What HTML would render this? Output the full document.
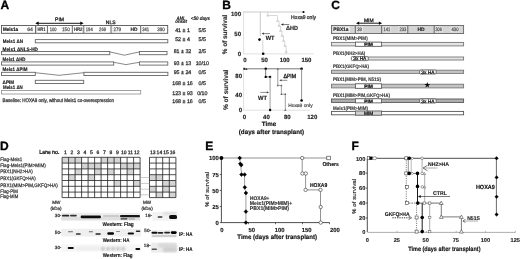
<!DOCTYPE html>
<html><head><meta charset="utf-8"><style>
html,body{margin:0;padding:0;background:#fff;}
body{width:520px;height:259px;overflow:hidden;}
svg{display:block;font-family:"Liberation Sans", sans-serif;will-change:transform;text-rendering:geometricPrecision;}
</style></head><body>
<svg width="520" height="259" viewBox="0 0 520 259" font-family='"Liberation Sans", sans-serif'>
<rect width="520" height="259" fill="#fff"/>
<text x="0.40" y="8.62" font-size="12" font-weight="bold" stroke="#000" stroke-width="0.300" >A</text>
<line x1="37.00" y1="23.30" x2="82.00" y2="23.30" stroke="#000" stroke-width="0.9" />
<path d="M35.3,23.3 L38.6,21.6 L38.6,25 Z" fill="#000" stroke="none" stroke-width="0" />
<path d="M83.6,23.3 L80.3,21.6 L80.3,25 Z" fill="#000" stroke="none" stroke-width="0" />
<text x="59.50" y="21.40" font-size="5" text-anchor="middle" fill="#111" stroke="#111" stroke-width="0.250" >PIM</text>
<text x="110.70" y="23.80" font-size="5" text-anchor="middle" fill="#111" stroke="#111" stroke-width="0.250" >NLS</text>
<rect x="1.50" y="25.50" width="166.20" height="7.80" fill="#fff" stroke="#555" stroke-width="0.9" />
<line x1="35.50" y1="25.50" x2="35.50" y2="33.30" stroke="#666" stroke-width="1.0" />
<line x1="47.40" y1="25.50" x2="47.40" y2="33.30" stroke="#666" stroke-width="1.0" />
<line x1="72.30" y1="25.50" x2="72.30" y2="33.30" stroke="#666" stroke-width="1.0" />
<line x1="83.80" y1="25.50" x2="83.80" y2="33.30" stroke="#666" stroke-width="1.0" />
<line x1="111.00" y1="25.50" x2="111.00" y2="33.30" stroke="#666" stroke-width="1.0" />
<line x1="140.70" y1="25.50" x2="140.70" y2="33.30" stroke="#666" stroke-width="1.0" />
<line x1="36.30" y1="25.50" x2="36.30" y2="33.30" stroke="#999" stroke-width="0.5" />
<line x1="83.00" y1="25.50" x2="83.00" y2="33.30" stroke="#999" stroke-width="0.5" />
<line x1="111.80" y1="25.50" x2="111.80" y2="33.30" stroke="#999" stroke-width="0.5" />
<text x="3.00" y="31.40" font-size="5" font-weight="bold" stroke="#000" stroke-width="0.125" textLength="15.00" lengthAdjust="spacingAndGlyphs" >Meis1a</text>
<text x="27.20" y="31.40" font-size="5" fill="#555" stroke="#555" stroke-width="0.250" textLength="5.80" lengthAdjust="spacingAndGlyphs" >64</text>
<text x="37.40" y="31.40" font-size="5" font-weight="bold" fill="#333" stroke="#333" stroke-width="0.125" textLength="8.00" lengthAdjust="spacingAndGlyphs" >HR1</text>
<text x="49.80" y="31.40" font-size="5" fill="#555" stroke="#555" stroke-width="0.250" textLength="6.70" lengthAdjust="spacingAndGlyphs" >100</text>
<text x="62.00" y="31.40" font-size="5" fill="#555" stroke="#555" stroke-width="0.250" textLength="7.80" lengthAdjust="spacingAndGlyphs" >150</text>
<text x="73.90" y="31.40" font-size="5" font-weight="bold" fill="#333" stroke="#333" stroke-width="0.125" textLength="8.60" lengthAdjust="spacingAndGlyphs" >HR2</text>
<text x="85.80" y="31.40" font-size="5" fill="#555" stroke="#555" stroke-width="0.250" textLength="6.90" lengthAdjust="spacingAndGlyphs" >194</text>
<text x="99.10" y="31.40" font-size="5" fill="#555" stroke="#555" stroke-width="0.250" textLength="6.90" lengthAdjust="spacingAndGlyphs" >268</text>
<text x="113.60" y="31.40" font-size="5" fill="#555" stroke="#555" stroke-width="0.250" textLength="7.50" lengthAdjust="spacingAndGlyphs" >279</text>
<text x="130.40" y="31.40" font-size="5" font-weight="bold" fill="#222" stroke="#222" stroke-width="0.125" textLength="7.00" lengthAdjust="spacingAndGlyphs" >HD</text>
<text x="142.20" y="31.40" font-size="5" fill="#555" stroke="#555" stroke-width="0.250" textLength="6.90" lengthAdjust="spacingAndGlyphs" >341</text>
<text x="157.20" y="31.40" font-size="5" fill="#555" stroke="#555" stroke-width="0.250" textLength="7.60" lengthAdjust="spacingAndGlyphs" >390</text>
<text x="2.80" y="42.60" font-size="5" font-weight="bold" fill="#111" stroke="#111" stroke-width="0.125" textLength="20.20" lengthAdjust="spacingAndGlyphs" >Meis1 ΔN</text>
<rect x="35.30" y="39.60" width="132.50" height="3.20" fill="#fff" stroke="#666" stroke-width="0.9" />
<text x="2.60" y="50.50" font-size="5" font-weight="bold" fill="#111" stroke="#111" stroke-width="0.125" textLength="35.40" lengthAdjust="spacingAndGlyphs" >Meis1 ΔNLS-HD</text>
<rect x="1.50" y="51.50" width="108.30" height="3.20" fill="#fff" stroke="#666" stroke-width="0.9" />
<path d="M109.8,51.9 L124.3,55.2 L139.4,51.9" fill="none" stroke="#555" stroke-width="0.7" />
<rect x="139.40" y="51.50" width="27.60" height="3.20" fill="#fff" stroke="#666" stroke-width="0.9" />
<text x="2.60" y="61.10" font-size="5" font-weight="bold" fill="#111" stroke="#111" stroke-width="0.125" textLength="22.90" lengthAdjust="spacingAndGlyphs" >Meis1 ΔHD</text>
<rect x="1.50" y="61.90" width="112.20" height="3.20" fill="#fff" stroke="#666" stroke-width="0.9" />
<path d="M113.7,62.3 L126.0,64.6 L139.4,62.3" fill="none" stroke="#555" stroke-width="0.7" />
<rect x="139.40" y="61.90" width="28.40" height="3.20" fill="#fff" stroke="#666" stroke-width="0.9" />
<text x="2.60" y="71.30" font-size="5" font-weight="bold" fill="#111" stroke="#111" stroke-width="0.125" textLength="24.90" lengthAdjust="spacingAndGlyphs" >Meis1 ΔPIM</text>
<rect x="1.50" y="72.30" width="33.80" height="3.20" fill="#fff" stroke="#666" stroke-width="0.9" />
<path d="M35.3,72.7 L59.0,75.3 L83.9,72.7" fill="none" stroke="#555" stroke-width="0.7" />
<rect x="83.90" y="72.30" width="84.00" height="3.20" fill="#fff" stroke="#666" stroke-width="0.9" />
<text x="2.60" y="83.50" font-size="5" font-weight="bold" fill="#111" stroke="#111" stroke-width="0.125" textLength="11.40" lengthAdjust="spacingAndGlyphs" >ΔPIM</text>
<rect x="35.30" y="80.30" width="48.40" height="3.20" fill="#fff" stroke="#666" stroke-width="0.9" />
<text x="3.00" y="89.00" font-size="5" font-weight="bold" fill="#111" stroke="#111" stroke-width="0.125" textLength="19.80" lengthAdjust="spacingAndGlyphs" >Meis1 ΔN</text>
<rect x="1.50" y="90.50" width="139.20" height="3.50" fill="#fff" stroke="#999" stroke-width="0.9" />
<text x="2.60" y="101.77" font-size="5.2" fill="#333" stroke="#333" stroke-width="0.260" textLength="111.30" lengthAdjust="spacingAndGlyphs" >Baseline: HOXA9 only, without Meis1 co-overexpression</text>
<text x="176.60" y="19.50" font-size="5.0" font-weight="bold" font-style="italic" fill="#222" stroke="#222" stroke-width="0.125" textLength="9.00" lengthAdjust="spacingAndGlyphs" >AML</text>
<text x="175.20" y="23.10" font-size="5.0" font-weight="bold" font-style="italic" fill="#222" stroke="#222" stroke-width="0.125" textLength="11.80" lengthAdjust="spacingAndGlyphs" >onset</text>
<text x="190.80" y="19.80" font-size="5.0" font-weight="bold" font-style="italic" fill="#222" stroke="#222" stroke-width="0.125" textLength="19.20" lengthAdjust="spacingAndGlyphs" >&lt;50 days</text>
<text x="182.50" y="32.21" font-size="5.3" text-anchor="middle" fill="#333" stroke="#333" stroke-width="0.265" >41 ± 1</text>
<text x="202.30" y="32.21" font-size="5.3" text-anchor="middle" fill="#333" stroke="#333" stroke-width="0.265" >5/5</text>
<text x="182.50" y="41.31" font-size="5.3" text-anchor="middle" fill="#333" stroke="#333" stroke-width="0.265" >52 ± 4</text>
<text x="202.30" y="41.31" font-size="5.3" text-anchor="middle" fill="#333" stroke="#333" stroke-width="0.265" >5/5</text>
<text x="182.50" y="52.91" font-size="5.3" text-anchor="middle" fill="#333" stroke="#333" stroke-width="0.265" >81 ± 32</text>
<text x="202.30" y="52.91" font-size="5.3" text-anchor="middle" fill="#333" stroke="#333" stroke-width="0.265" >2/5</text>
<text x="182.50" y="64.51" font-size="5.3" text-anchor="middle" fill="#333" stroke="#333" stroke-width="0.265" >93 ± 13</text>
<text x="202.30" y="64.51" font-size="5.3" text-anchor="middle" fill="#333" stroke="#333" stroke-width="0.265" >10/10</text>
<text x="182.50" y="74.31" font-size="5.3" text-anchor="middle" fill="#333" stroke="#333" stroke-width="0.265" >95 ± 24</text>
<text x="202.30" y="74.31" font-size="5.3" text-anchor="middle" fill="#333" stroke="#333" stroke-width="0.265" >0/5</text>
<text x="182.50" y="84.61" font-size="5.3" text-anchor="middle" fill="#333" stroke="#333" stroke-width="0.265" >168 ± 16</text>
<text x="202.30" y="84.61" font-size="5.3" text-anchor="middle" fill="#333" stroke="#333" stroke-width="0.265" >0/5</text>
<text x="182.50" y="94.71" font-size="5.3" text-anchor="middle" fill="#333" stroke="#333" stroke-width="0.265" >123 ± 93</text>
<text x="202.30" y="94.71" font-size="5.3" text-anchor="middle" fill="#333" stroke="#333" stroke-width="0.265" >0/10</text>
<text x="182.50" y="102.71" font-size="5.3" text-anchor="middle" fill="#333" stroke="#333" stroke-width="0.265" >168 ± 16</text>
<text x="202.30" y="102.71" font-size="5.3" text-anchor="middle" fill="#333" stroke="#333" stroke-width="0.265" >0/5</text>
<text x="222.30" y="8.62" font-size="12" font-weight="bold" stroke="#000" stroke-width="0.300" >B</text>
<line x1="243.60" y1="11.50" x2="243.60" y2="54.00" stroke="#dcdcdc" stroke-width="0.9" />
<line x1="243.20" y1="53.90" x2="314.00" y2="53.90" stroke="#dcdcdc" stroke-width="0.9" />
<text x="241.00" y="16.16" font-size="6" font-weight="bold" text-anchor="end" fill="#222" stroke="#222" stroke-width="0.150" >100</text>
<text x="241.00" y="35.96" font-size="6" font-weight="bold" text-anchor="end" fill="#222" stroke="#222" stroke-width="0.150" >50</text>
<text x="241.00" y="55.76" font-size="6" font-weight="bold" text-anchor="end" fill="#222" stroke="#222" stroke-width="0.150" >0</text>
<text x="245.00" y="62.06" font-size="6" font-weight="bold" text-anchor="middle" fill="#222" stroke="#222" stroke-width="0.150" >0</text>
<text x="264.60" y="62.06" font-size="6" font-weight="bold" text-anchor="middle" fill="#222" stroke="#222" stroke-width="0.150" >50</text>
<text x="284.70" y="62.06" font-size="6" font-weight="bold" text-anchor="middle" fill="#222" stroke="#222" stroke-width="0.150" >100</text>
<text x="306.40" y="62.06" font-size="6" font-weight="bold" text-anchor="middle" fill="#222" stroke="#222" stroke-width="0.150" >150</text>
<text transform="translate(227.38,34.50) rotate(-90)" x="0" y="0" font-size="6.6" font-weight="bold" text-anchor="middle" textLength="39.50" lengthAdjust="spacingAndGlyphs" fill="#333" stroke="#333" stroke-width="0.165">% of survival</text>
<line x1="243.60" y1="12.00" x2="303.50" y2="12.00" stroke="#c4c4c4" stroke-width="0.9" />
<circle cx="303.50" cy="12.00" r="1.1" fill="#000" stroke="none" stroke-width="0.6"/>
<line x1="260.30" y1="12.00" x2="260.30" y2="36.00" stroke="#c4c4c4" stroke-width="0.9" />
<line x1="262.80" y1="40.00" x2="262.80" y2="53.50" stroke="#ccc" stroke-width="0.8" />
<circle cx="259.50" cy="39.60" r="1.3" fill="#000" stroke="none" stroke-width="0.6"/>
<circle cx="263.20" cy="53.80" r="1.3" fill="#000" stroke="none" stroke-width="0.6"/>
<path d="M267.8,12 L267.8,15.5 L277.5,15.5 L277.5,21 L279,21 L279,26 L280.5,26 L280.5,31 L282,31 L282,36 L283.5,36 L283.5,41 L284.8,41 L284.8,46 L286.2,46 L286.2,53.8" fill="none" stroke="#d4d4d4" stroke-width="0.9" />
<path d="M266.20,16.48 L269.40,16.48 L267.80,13.60 Z" fill="#d0d0d0" stroke="none" stroke-width="0" />
<path d="M275.90,21.78 L279.10,21.78 L277.50,18.90 Z" fill="#d0d0d0" stroke="none" stroke-width="0" />
<path d="M277.40,26.78 L280.60,26.78 L279.00,23.90 Z" fill="#d0d0d0" stroke="none" stroke-width="0" />
<path d="M278.90,31.78 L282.10,31.78 L280.50,28.90 Z" fill="#d0d0d0" stroke="none" stroke-width="0" />
<path d="M280.40,36.78 L283.60,36.78 L282.00,33.90 Z" fill="#d0d0d0" stroke="none" stroke-width="0" />
<path d="M281.90,41.78 L285.10,41.78 L283.50,38.90 Z" fill="#d0d0d0" stroke="none" stroke-width="0" />
<path d="M283.20,46.78 L286.40,46.78 L284.80,43.90 Z" fill="#d0d0d0" stroke="none" stroke-width="0" />
<path d="M284.60,52.78 L287.80,52.78 L286.20,49.90 Z" fill="#d0d0d0" stroke="none" stroke-width="0" />
<text x="291.00" y="19.34" font-size="5.4" fill="#333" stroke="#333" stroke-width="0.270" textLength="25.00" lengthAdjust="spacingAndGlyphs" >Hoxa9 only</text>
<line x1="282.34" y1="24.50" x2="289.30" y2="24.50" stroke="#333" stroke-width="0.6" />
<path d="M280.90,24.50 L283.30,23.30 L283.30,25.70 Z" fill="#333" stroke="none" stroke-width="0" />
<text x="286.00" y="30.16" font-size="6" font-weight="bold" fill="#222" stroke="#222" stroke-width="0.150" textLength="12.00" lengthAdjust="spacingAndGlyphs" >ΔHD</text>
<line x1="262.92" y1="33.60" x2="270.00" y2="33.60" stroke="#333" stroke-width="0.6" />
<path d="M261.60,33.60 L263.80,32.50 L263.80,34.70 Z" fill="#333" stroke="none" stroke-width="0" />
<text x="265.70" y="39.56" font-size="6" font-weight="bold" fill="#222" stroke="#222" stroke-width="0.150" textLength="8.80" lengthAdjust="spacingAndGlyphs" >WT</text>
<line x1="243.60" y1="68.50" x2="243.60" y2="110.20" stroke="#dcdcdc" stroke-width="0.9" />
<line x1="243.20" y1="110.20" x2="310.00" y2="110.20" stroke="#dcdcdc" stroke-width="0.9" />
<text x="242.00" y="78.16" font-size="6" font-weight="bold" text-anchor="end" fill="#222" stroke="#222" stroke-width="0.150" >80</text>
<text x="242.00" y="96.86" font-size="6" font-weight="bold" text-anchor="end" fill="#222" stroke="#222" stroke-width="0.150" >40</text>
<text x="242.00" y="112.16" font-size="6" font-weight="bold" text-anchor="end" fill="#222" stroke="#222" stroke-width="0.150" >0</text>
<text x="244.50" y="118.76" font-size="6" font-weight="bold" text-anchor="middle" fill="#222" stroke="#222" stroke-width="0.150" >0</text>
<text x="266.40" y="118.76" font-size="6" font-weight="bold" text-anchor="middle" fill="#222" stroke="#222" stroke-width="0.150" >40</text>
<text x="287.30" y="118.76" font-size="6" font-weight="bold" text-anchor="middle" fill="#222" stroke="#222" stroke-width="0.150" >80</text>
<text x="312.30" y="118.76" font-size="6" font-weight="bold" text-anchor="middle" fill="#222" stroke="#222" stroke-width="0.150" >120</text>
<text transform="translate(227.58,89.80) rotate(-90)" x="0" y="0" font-size="6.6" font-weight="bold" text-anchor="middle" textLength="40.50" lengthAdjust="spacingAndGlyphs" fill="#333" stroke="#333" stroke-width="0.165">% of survival</text>
<line x1="244.00" y1="68.80" x2="301.60" y2="68.80" stroke="#555" stroke-width="0.8" />
<rect x="243.30" y="67.80" width="2.00" height="2.00" fill="#222" stroke="none" stroke-width="0" />
<path d="M245.30,69.88 L247.50,69.88 L246.40,67.90 Z" fill="#333" stroke="none" stroke-width="0" />
<circle cx="265.70" cy="68.80" r="1.2" fill="#000" stroke="none" stroke-width="0.6"/>
<line x1="265.70" y1="68.80" x2="265.70" y2="76.90" stroke="#555" stroke-width="0.8" />
<line x1="265.70" y1="76.90" x2="270.10" y2="76.90" stroke="#555" stroke-width="0.8" />
<circle cx="265.70" cy="76.90" r="1.2" fill="#000" stroke="none" stroke-width="0.6"/>
<circle cx="270.10" cy="76.90" r="1.2" fill="#000" stroke="none" stroke-width="0.6"/>
<line x1="270.10" y1="76.90" x2="270.10" y2="110.00" stroke="#888" stroke-width="0.8" />
<circle cx="270.10" cy="110.00" r="1.2" fill="#000" stroke="none" stroke-width="0.6"/>
<line x1="277.80" y1="68.80" x2="277.80" y2="85.40" stroke="#888" stroke-width="0.8" />
<line x1="277.80" y1="85.40" x2="281.40" y2="85.40" stroke="#888" stroke-width="0.8" />
<line x1="281.40" y1="85.40" x2="281.40" y2="94.20" stroke="#888" stroke-width="0.8" />
<line x1="281.40" y1="94.20" x2="285.30" y2="94.20" stroke="#888" stroke-width="0.8" />
<line x1="285.30" y1="94.20" x2="285.30" y2="110.20" stroke="#888" stroke-width="0.8" />
<path d="M276.70,69.68 L278.90,69.68 L277.80,67.70 Z" fill="#666" stroke="none" stroke-width="0" />
<path d="M276.70,86.28 L278.90,86.28 L277.80,84.30 Z" fill="#666" stroke="none" stroke-width="0" />
<path d="M280.30,86.28 L282.50,86.28 L281.40,84.30 Z" fill="#666" stroke="none" stroke-width="0" />
<path d="M280.30,95.08 L282.50,95.08 L281.40,93.10 Z" fill="#666" stroke="none" stroke-width="0" />
<path d="M284.20,95.08 L286.40,95.08 L285.30,93.10 Z" fill="#666" stroke="none" stroke-width="0" />
<path d="M284.20,110.88 L286.40,110.88 L285.30,108.90 Z" fill="#666" stroke="none" stroke-width="0" />
<circle cx="301.60" cy="68.80" r="1.3" fill="#000" stroke="none" stroke-width="0.6"/>
<line x1="301.60" y1="68.80" x2="301.60" y2="100.50" stroke="#777" stroke-width="0.8" />
<circle cx="301.60" cy="100.50" r="1.3" fill="#000" stroke="none" stroke-width="0.6"/>
<text x="283.40" y="77.66" font-size="6" fill="#111" stroke="#111" stroke-width="0.300" textLength="12.80" lengthAdjust="spacingAndGlyphs" >ΔPIM</text>
<line x1="280.62" y1="80.30" x2="287.40" y2="80.30" stroke="#444" stroke-width="0.6" />
<path d="M279.30,80.30 L281.50,79.20 L281.50,81.40 Z" fill="#444" stroke="none" stroke-width="0" />
<line x1="260.30" y1="92.40" x2="267.68" y2="92.40" stroke="#444" stroke-width="0.6" />
<path d="M269.00,92.40 L266.80,91.30 L266.80,93.50 Z" fill="#444" stroke="none" stroke-width="0" />
<text x="258.00" y="99.56" font-size="6" font-weight="bold" fill="#222" stroke="#222" stroke-width="0.150" textLength="9.00" lengthAdjust="spacingAndGlyphs" >WT</text>
<text x="288.20" y="107.03" font-size="4.8" fill="#555" stroke="#555" stroke-width="0.240" textLength="24.40" lengthAdjust="spacingAndGlyphs" >Hoxa9 only</text>
<text x="261.80" y="126.47" font-size="6.3" font-weight="bold" fill="#111" stroke="#111" stroke-width="0.158" textLength="14.40" lengthAdjust="spacingAndGlyphs" >Time</text>
<text x="238.80" y="134.37" font-size="6.3" font-weight="bold" fill="#111" stroke="#111" stroke-width="0.158" textLength="65.40" lengthAdjust="spacingAndGlyphs" >(days after transplant)</text>
<text x="331.30" y="8.72" font-size="12" font-weight="bold" stroke="#000" stroke-width="0.300" >C</text>
<line x1="358.00" y1="23.20" x2="380.00" y2="23.20" stroke="#000" stroke-width="0.9" />
<path d="M356,23.2 L359.2,21.6 L359.2,24.8 Z" fill="#000" stroke="none" stroke-width="0" />
<path d="M382.1,23.2 L378.9,21.6 L378.9,24.8 Z" fill="#000" stroke="none" stroke-width="0" />
<text x="368.80" y="21.90" font-size="5" text-anchor="middle" fill="#111" stroke="#111" stroke-width="0.250" >MIM</text>
<rect x="331.50" y="25.50" width="132.10" height="8.00" fill="#d4d4d4" stroke="#666" stroke-width="0.9" />
<rect x="332.50" y="26.50" width="17.50" height="6.00" fill="#ececec" stroke="none" stroke-width="0" />
<rect x="356.50" y="26.60" width="6.50" height="5.80" fill="#e6e6e6" stroke="none" stroke-width="0" />
<rect x="382.80" y="26.60" width="8.20" height="5.80" fill="#e6e6e6" stroke="none" stroke-width="0" />
<rect x="398.50" y="26.60" width="8.50" height="5.80" fill="#e6e6e6" stroke="none" stroke-width="0" />
<rect x="434.80" y="26.60" width="7.70" height="5.80" fill="#e6e6e6" stroke="none" stroke-width="0" />
<rect x="450.50" y="26.60" width="9.00" height="5.80" fill="#e6e6e6" stroke="none" stroke-width="0" />
<line x1="355.30" y1="25.50" x2="355.30" y2="33.50" stroke="#666" stroke-width="1.0" />
<line x1="381.70" y1="25.50" x2="381.70" y2="33.50" stroke="#666" stroke-width="1.0" />
<line x1="407.80" y1="25.50" x2="407.80" y2="33.50" stroke="#666" stroke-width="1.0" />
<line x1="434.20" y1="25.50" x2="434.20" y2="33.50" stroke="#666" stroke-width="1.0" />
<text x="333.20" y="31.40" font-size="5" font-weight="bold" fill="#222" stroke="#222" stroke-width="0.125" textLength="15.30" lengthAdjust="spacingAndGlyphs" >PBX1a</text>
<text x="357.30" y="31.40" font-size="5" fill="#555" stroke="#555" stroke-width="0.250" textLength="4.50" lengthAdjust="spacingAndGlyphs" >38</text>
<text x="383.60" y="31.40" font-size="5" fill="#555" stroke="#555" stroke-width="0.250" textLength="6.60" lengthAdjust="spacingAndGlyphs" >141</text>
<text x="399.40" y="31.40" font-size="5" fill="#555" stroke="#555" stroke-width="0.250" textLength="6.80" lengthAdjust="spacingAndGlyphs" >233</text>
<text x="421.10" y="31.40" font-size="5" font-weight="bold" text-anchor="middle" fill="#222" stroke="#222" stroke-width="0.125" >HD</text>
<text x="435.40" y="31.40" font-size="5" fill="#555" stroke="#555" stroke-width="0.250" textLength="6.40" lengthAdjust="spacingAndGlyphs" >306</text>
<text x="451.50" y="31.40" font-size="5" fill="#555" stroke="#555" stroke-width="0.250" textLength="7.00" lengthAdjust="spacingAndGlyphs" >430</text>
<text x="333.00" y="40.30" font-size="5" font-weight="bold" fill="#3a3a3a" stroke="#3a3a3a" stroke-width="0.125" textLength="34.70" lengthAdjust="spacingAndGlyphs" >PBX1(MIM&gt;PIM)</text>
<rect x="331.50" y="42.40" width="132.10" height="3.50" fill="#e4e4e4" stroke="#777" stroke-width="0.9" />
<rect x="355.50" y="42.10" width="26.10" height="4.20" fill="#fff" stroke="#555" stroke-width="0.8" />
<rect x="364.05" y="42.60" width="9.00" height="3.20" fill="#bbb" stroke="none" stroke-width="0" />
<text x="368.55" y="46.03" font-size="4.8" text-anchor="middle" fill="#111" stroke="#111" stroke-width="0.240" >PIM</text>
<text x="333.00" y="54.70" font-size="5" font-weight="bold" fill="#3a3a3a" stroke="#3a3a3a" stroke-width="0.125" textLength="32.30" lengthAdjust="spacingAndGlyphs" >PBX1(NH2&gt;HA)</text>
<rect x="368.00" y="57.00" width="95.60" height="3.00" fill="#e4e4e4" stroke="#777" stroke-width="0.9" />
<rect x="351.40" y="56.60" width="16.80" height="4.00" fill="#fff" stroke="#555" stroke-width="0.8" rx="0.9"/>
<text x="359.80" y="60.43" font-size="4.8" text-anchor="middle" fill="#111" stroke="#111" stroke-width="0.240" >3x HA</text>
<text x="333.00" y="68.20" font-size="5" font-weight="bold" fill="#3a3a3a" stroke="#3a3a3a" stroke-width="0.125" textLength="36.00" lengthAdjust="spacingAndGlyphs" >PBX1(GKFQ&gt;HA)</text>
<rect x="331.50" y="70.20" width="132.10" height="3.20" fill="#c4c4c4" stroke="#777" stroke-width="0.9" />
<rect x="419.60" y="70.00" width="16.50" height="4.00" fill="#fff" stroke="#555" stroke-width="0.8" rx="0.9"/>
<text x="427.85" y="73.83" font-size="4.8" text-anchor="middle" fill="#111" stroke="#111" stroke-width="0.240" >3x HA</text>
<text x="333.00" y="81.30" font-size="5" font-weight="bold" fill="#3a3a3a" stroke="#3a3a3a" stroke-width="0.125" textLength="48.00" lengthAdjust="spacingAndGlyphs" >PBX1(MIM&gt;PIM, N51S)</text>
<rect x="331.50" y="84.20" width="132.10" height="3.70" fill="#c4c4c4" stroke="#777" stroke-width="0.9" />
<rect x="355.50" y="83.80" width="26.10" height="4.50" fill="#fff" stroke="#555" stroke-width="0.8" />
<rect x="364.05" y="84.30" width="9.00" height="3.50" fill="#bbb" stroke="none" stroke-width="0" />
<text x="368.55" y="87.88" font-size="4.8" text-anchor="middle" fill="#111" stroke="#111" stroke-width="0.240" >PIM</text>
<text x="427.40" y="87.46" font-size="6.2" text-anchor="middle" stroke="#000" stroke-width="0.310" >★</text>
<text x="333.00" y="96.70" font-size="5" font-weight="bold" fill="#3a3a3a" stroke="#3a3a3a" stroke-width="0.125" textLength="57.00" lengthAdjust="spacingAndGlyphs" >PBX1(MIM&gt;PIM,GKFQ&gt;HA)</text>
<rect x="331.50" y="99.00" width="132.10" height="3.40" fill="#b0b0b0" stroke="#555" stroke-width="0.9" />
<rect x="355.50" y="98.80" width="26.10" height="4.10" fill="#fff" stroke="#555" stroke-width="0.8" />
<rect x="364.05" y="99.30" width="9.00" height="3.10" fill="#bbb" stroke="none" stroke-width="0" />
<text x="368.55" y="102.68" font-size="4.8" text-anchor="middle" fill="#111" stroke="#111" stroke-width="0.240" >PIM</text>
<rect x="419.60" y="98.90" width="16.50" height="4.10" fill="#fff" stroke="#555" stroke-width="0.8" rx="0.9"/>
<text x="427.85" y="102.78" font-size="4.8" text-anchor="middle" fill="#111" stroke="#111" stroke-width="0.240" >3x HA</text>
<text x="333.00" y="109.80" font-size="5" font-weight="bold" fill="#3a3a3a" stroke="#3a3a3a" stroke-width="0.125" textLength="35.00" lengthAdjust="spacingAndGlyphs" >Meis1(PIM&gt;MIM)</text>
<rect x="331.50" y="111.40" width="132.10" height="3.40" fill="#fff" stroke="#555" stroke-width="0.9" />
<rect x="355.50" y="111.00" width="26.10" height="4.20" fill="#d0d0d0" stroke="#555" stroke-width="0.8" />
<text x="368.55" y="114.93" font-size="4.8" text-anchor="middle" fill="#111" stroke="#111" stroke-width="0.240" >MIM</text>
<text x="0.00" y="149.52" font-size="12" font-weight="bold" stroke="#000" stroke-width="0.300" >D</text>
<text x="39.20" y="154.36" font-size="6" font-weight="bold" fill="#111" stroke="#111" stroke-width="0.150" textLength="20.30" lengthAdjust="spacingAndGlyphs" >Lane no.</text>
<text x="65.35" y="154.20" font-size="5" text-anchor="middle" fill="#222" stroke="#222" stroke-width="0.250" >1</text>
<text x="71.85" y="154.20" font-size="5" text-anchor="middle" fill="#222" stroke="#222" stroke-width="0.250" >2</text>
<text x="78.35" y="154.20" font-size="5" text-anchor="middle" fill="#222" stroke="#222" stroke-width="0.250" >3</text>
<text x="84.85" y="154.20" font-size="5" text-anchor="middle" fill="#222" stroke="#222" stroke-width="0.250" >4</text>
<text x="91.35" y="154.20" font-size="5" text-anchor="middle" fill="#222" stroke="#222" stroke-width="0.250" >5</text>
<text x="97.85" y="154.20" font-size="5" text-anchor="middle" fill="#222" stroke="#222" stroke-width="0.250" >6</text>
<text x="104.35" y="154.20" font-size="5" text-anchor="middle" fill="#222" stroke="#222" stroke-width="0.250" >7</text>
<text x="110.85" y="154.20" font-size="5" text-anchor="middle" fill="#222" stroke="#222" stroke-width="0.250" >8</text>
<text x="117.35" y="154.20" font-size="5" text-anchor="middle" fill="#222" stroke="#222" stroke-width="0.250" >9</text>
<text x="123.85" y="154.20" font-size="5" text-anchor="middle" fill="#222" stroke="#222" stroke-width="0.250" >10</text>
<text x="130.35" y="154.20" font-size="5" text-anchor="middle" fill="#222" stroke="#222" stroke-width="0.250" >11</text>
<text x="136.85" y="154.20" font-size="5" text-anchor="middle" fill="#222" stroke="#222" stroke-width="0.250" >12</text>
<text x="152.80" y="154.20" font-size="5" text-anchor="middle" fill="#222" stroke="#222" stroke-width="0.250" >13</text>
<text x="159.40" y="154.20" font-size="5" text-anchor="middle" fill="#222" stroke="#222" stroke-width="0.250" >14</text>
<text x="166.00" y="154.20" font-size="5" text-anchor="middle" fill="#222" stroke="#222" stroke-width="0.250" >15</text>
<text x="172.60" y="154.20" font-size="5" text-anchor="middle" fill="#222" stroke="#222" stroke-width="0.250" >16</text>
<text x="0.30" y="160.50" font-size="5" fill="#3a3a3a" stroke="#3a3a3a" stroke-width="0.250" textLength="22.00" lengthAdjust="spacingAndGlyphs" >Flag-Meis1</text>
<text x="0.30" y="166.80" font-size="5" fill="#3a3a3a" stroke="#3a3a3a" stroke-width="0.250" textLength="45.50" lengthAdjust="spacingAndGlyphs" >Flag-Meis1(PIM&gt;MIM)</text>
<text x="0.30" y="173.40" font-size="5" fill="#3a3a3a" stroke="#3a3a3a" stroke-width="0.250" textLength="32.50" lengthAdjust="spacingAndGlyphs" >PBX1(NH2&gt;HA)</text>
<text x="0.30" y="180.40" font-size="5" fill="#3a3a3a" stroke="#3a3a3a" stroke-width="0.250" textLength="35.50" lengthAdjust="spacingAndGlyphs" >PBX1(GKFQ&gt;HA)</text>
<text x="0.30" y="186.80" font-size="5" fill="#3a3a3a" stroke="#3a3a3a" stroke-width="0.250" textLength="57.50" lengthAdjust="spacingAndGlyphs" >PBX1(MIM&gt;PIM,GKFQ&gt;HA)</text>
<text x="0.30" y="192.60" font-size="5" fill="#3a3a3a" stroke="#3a3a3a" stroke-width="0.250" textLength="17.50" lengthAdjust="spacingAndGlyphs" >Flag-PIM</text>
<text x="0.30" y="198.10" font-size="5" fill="#3a3a3a" stroke="#3a3a3a" stroke-width="0.250" textLength="18.00" lengthAdjust="spacingAndGlyphs" >Flag-MIM</text>
<rect x="62.10" y="157.30" width="6.50" height="5.80" fill="#d4d4d4" stroke="none" stroke-width="0" />
<rect x="68.60" y="157.30" width="6.50" height="5.80" fill="#d4d4d4" stroke="none" stroke-width="0" />
<rect x="75.10" y="157.30" width="6.50" height="5.80" fill="#d4d4d4" stroke="none" stroke-width="0" />
<rect x="101.10" y="157.30" width="6.50" height="5.80" fill="#d4d4d4" stroke="none" stroke-width="0" />
<rect x="107.60" y="157.30" width="6.50" height="5.80" fill="#d4d4d4" stroke="none" stroke-width="0" />
<rect x="114.10" y="157.30" width="6.50" height="5.80" fill="#d4d4d4" stroke="none" stroke-width="0" />
<rect x="81.60" y="163.10" width="6.50" height="5.80" fill="#d4d4d4" stroke="none" stroke-width="0" />
<rect x="88.10" y="163.10" width="6.50" height="5.80" fill="#d4d4d4" stroke="none" stroke-width="0" />
<rect x="94.60" y="163.10" width="6.50" height="5.80" fill="#d4d4d4" stroke="none" stroke-width="0" />
<rect x="120.60" y="163.10" width="6.50" height="5.80" fill="#d4d4d4" stroke="none" stroke-width="0" />
<rect x="127.10" y="163.10" width="6.50" height="5.80" fill="#d4d4d4" stroke="none" stroke-width="0" />
<rect x="133.60" y="163.10" width="6.50" height="5.80" fill="#d4d4d4" stroke="none" stroke-width="0" />
<rect x="75.10" y="168.90" width="6.50" height="5.80" fill="#d4d4d4" stroke="none" stroke-width="0" />
<rect x="94.60" y="168.90" width="6.50" height="5.80" fill="#d4d4d4" stroke="none" stroke-width="0" />
<rect x="107.60" y="168.90" width="6.50" height="5.80" fill="#d4d4d4" stroke="none" stroke-width="0" />
<rect x="127.10" y="168.90" width="6.50" height="5.80" fill="#d4d4d4" stroke="none" stroke-width="0" />
<rect x="68.60" y="174.70" width="6.50" height="5.80" fill="#d4d4d4" stroke="none" stroke-width="0" />
<rect x="88.10" y="174.70" width="6.50" height="5.80" fill="#d4d4d4" stroke="none" stroke-width="0" />
<rect x="149.50" y="174.70" width="6.60" height="5.80" fill="#d4d4d4" stroke="none" stroke-width="0" />
<rect x="156.10" y="174.70" width="6.60" height="5.80" fill="#d4d4d4" stroke="none" stroke-width="0" />
<rect x="114.10" y="180.50" width="6.50" height="5.80" fill="#d4d4d4" stroke="none" stroke-width="0" />
<rect x="133.60" y="180.50" width="6.50" height="5.80" fill="#d4d4d4" stroke="none" stroke-width="0" />
<rect x="162.70" y="180.50" width="6.60" height="5.80" fill="#d4d4d4" stroke="none" stroke-width="0" />
<rect x="169.30" y="180.50" width="6.60" height="5.80" fill="#d4d4d4" stroke="none" stroke-width="0" />
<rect x="149.50" y="186.30" width="6.60" height="5.80" fill="#d4d4d4" stroke="none" stroke-width="0" />
<rect x="162.70" y="186.30" width="6.60" height="5.80" fill="#d4d4d4" stroke="none" stroke-width="0" />
<rect x="156.10" y="192.10" width="6.60" height="5.50" fill="#d4d4d4" stroke="none" stroke-width="0" />
<rect x="169.30" y="192.10" width="6.60" height="5.50" fill="#d4d4d4" stroke="none" stroke-width="0" />
<line x1="62.10" y1="157.30" x2="62.10" y2="197.60" stroke="#222" stroke-width="0.8" />
<line x1="68.60" y1="157.30" x2="68.60" y2="197.60" stroke="#222" stroke-width="0.8" />
<line x1="75.10" y1="157.30" x2="75.10" y2="197.60" stroke="#222" stroke-width="0.8" />
<line x1="81.60" y1="157.30" x2="81.60" y2="197.60" stroke="#222" stroke-width="0.8" />
<line x1="88.10" y1="157.30" x2="88.10" y2="197.60" stroke="#222" stroke-width="0.8" />
<line x1="94.60" y1="157.30" x2="94.60" y2="197.60" stroke="#222" stroke-width="0.8" />
<line x1="101.10" y1="157.30" x2="101.10" y2="197.60" stroke="#222" stroke-width="0.8" />
<line x1="107.60" y1="157.30" x2="107.60" y2="197.60" stroke="#222" stroke-width="0.8" />
<line x1="114.10" y1="157.30" x2="114.10" y2="197.60" stroke="#222" stroke-width="0.8" />
<line x1="120.60" y1="157.30" x2="120.60" y2="197.60" stroke="#222" stroke-width="0.8" />
<line x1="127.10" y1="157.30" x2="127.10" y2="197.60" stroke="#222" stroke-width="0.8" />
<line x1="133.60" y1="157.30" x2="133.60" y2="197.60" stroke="#222" stroke-width="0.8" />
<line x1="140.10" y1="157.30" x2="140.10" y2="197.60" stroke="#222" stroke-width="0.8" />
<line x1="149.50" y1="157.30" x2="149.50" y2="197.60" stroke="#222" stroke-width="0.8" />
<line x1="156.10" y1="157.30" x2="156.10" y2="197.60" stroke="#222" stroke-width="0.8" />
<line x1="162.70" y1="157.30" x2="162.70" y2="197.60" stroke="#222" stroke-width="0.8" />
<line x1="169.30" y1="157.30" x2="169.30" y2="197.60" stroke="#222" stroke-width="0.8" />
<line x1="175.90" y1="157.30" x2="175.90" y2="197.60" stroke="#222" stroke-width="0.8" />
<line x1="62.10" y1="157.30" x2="140.10" y2="157.30" stroke="#222" stroke-width="0.8" />
<line x1="149.50" y1="157.30" x2="175.90" y2="157.30" stroke="#222" stroke-width="0.8" />
<line x1="62.10" y1="163.10" x2="140.10" y2="163.10" stroke="#222" stroke-width="0.8" />
<line x1="149.50" y1="163.10" x2="175.90" y2="163.10" stroke="#222" stroke-width="0.8" />
<line x1="62.10" y1="168.90" x2="140.10" y2="168.90" stroke="#222" stroke-width="0.8" />
<line x1="149.50" y1="168.90" x2="175.90" y2="168.90" stroke="#222" stroke-width="0.8" />
<line x1="62.10" y1="174.70" x2="140.10" y2="174.70" stroke="#222" stroke-width="0.8" />
<line x1="149.50" y1="174.70" x2="175.90" y2="174.70" stroke="#222" stroke-width="0.8" />
<line x1="62.10" y1="180.50" x2="140.10" y2="180.50" stroke="#222" stroke-width="0.8" />
<line x1="149.50" y1="180.50" x2="175.90" y2="180.50" stroke="#222" stroke-width="0.8" />
<line x1="62.10" y1="186.30" x2="140.10" y2="186.30" stroke="#222" stroke-width="0.8" />
<line x1="149.50" y1="186.30" x2="175.90" y2="186.30" stroke="#222" stroke-width="0.8" />
<line x1="62.10" y1="192.10" x2="140.10" y2="192.10" stroke="#222" stroke-width="0.8" />
<line x1="149.50" y1="192.10" x2="175.90" y2="192.10" stroke="#222" stroke-width="0.8" />
<line x1="62.10" y1="197.60" x2="140.10" y2="197.60" stroke="#222" stroke-width="0.8" />
<line x1="149.50" y1="197.60" x2="175.90" y2="197.60" stroke="#222" stroke-width="0.8" />
<line x1="140.10" y1="177.50" x2="149.50" y2="177.50" stroke="#999" stroke-width="0.5" />
<line x1="140.10" y1="183.40" x2="149.50" y2="183.40" stroke="#999" stroke-width="0.5" />
<line x1="140.10" y1="189.20" x2="149.50" y2="189.20" stroke="#999" stroke-width="0.5" />
<line x1="140.10" y1="194.80" x2="149.50" y2="194.80" stroke="#999" stroke-width="0.5" />
<text x="56.30" y="204.06" font-size="4.6" text-anchor="middle" fill="#333" stroke="#333" stroke-width="0.230" >MW</text>
<text x="56.00" y="209.86" font-size="4.6" text-anchor="middle" fill="#333" stroke="#333" stroke-width="0.230" >(kDa)</text>
<text x="147.10" y="204.06" font-size="4.6" text-anchor="middle" fill="#333" stroke="#333" stroke-width="0.230" >MW</text>
<text x="147.10" y="210.06" font-size="4.6" text-anchor="middle" fill="#333" stroke="#333" stroke-width="0.230" >(kDa)</text>
<text x="61.50" y="216.96" font-size="4.6" text-anchor="end" fill="#333" stroke="#333" stroke-width="0.230" >30-</text>
<text x="61.50" y="233.96" font-size="4.6" text-anchor="end" fill="#333" stroke="#333" stroke-width="0.230" >50-</text>
<text x="61.50" y="249.36" font-size="4.6" text-anchor="end" fill="#333" stroke="#333" stroke-width="0.230" >30-</text>
<text x="152.00" y="216.96" font-size="4.6" text-anchor="end" fill="#333" stroke="#333" stroke-width="0.230" >18-</text>
<text x="151.00" y="232.26" font-size="4.6" text-anchor="end" fill="#333" stroke="#333" stroke-width="0.230" >50-</text>
<text x="150.50" y="246.96" font-size="4.6" text-anchor="end" fill="#333" stroke="#333" stroke-width="0.230" >18-</text>
<defs><filter id="bl" x="-20%" y="-50%" width="140%" height="200%"><feGaussianBlur stdDeviation="0.5"/></filter><filter id="bl2" x="-20%" y="-50%" width="140%" height="200%"><feGaussianBlur stdDeviation="0.9"/></filter></defs>
<rect x="61.30" y="212.80" width="79.00" height="7.60" fill="#ededed" stroke="none" stroke-width="0" />
<rect x="61.30" y="217.00" width="79.00" height="3.40" fill="#e0e0e0" stroke="none" stroke-width="0" />
<rect x="62.00" y="214.80" width="7.30" height="1.80" rx="0.90" fill="#222" filter="url(#bl)"/>
<rect x="70.00" y="214.70" width="6.80" height="1.80" rx="0.90" fill="#333" filter="url(#bl)"/>
<rect x="80.60" y="215.60" width="20.40" height="2.60" rx="1.30" fill="#111" filter="url(#bl)"/>
<rect x="103.00" y="215.40" width="16.50" height="1.20" rx="0.60" fill="#aaa" filter="url(#bl)"/>
<rect x="120.00" y="215.10" width="20.00" height="2.20" rx="1.10" fill="#151515" filter="url(#bl)"/>
<rect x="120.50" y="218.25" width="7.00" height="1.30" rx="0.65" fill="#333" filter="url(#bl)"/>
<rect x="128.50" y="218.40" width="6.50" height="1.00" rx="0.50" fill="#999" filter="url(#bl)"/>
<text x="102.60" y="225.98" font-size="5.5" font-weight="bold" fill="#111" stroke="#111" stroke-width="0.138" textLength="31.10" lengthAdjust="spacingAndGlyphs" >Western: Flag</text>
<rect x="61.30" y="228.80" width="79.70" height="7.70" fill="#efefef" stroke="none" stroke-width="0" />
<rect x="68.00" y="231.20" width="5.00" height="1.00" rx="0.50" fill="#666" filter="url(#bl)"/>
<rect x="75.80" y="233.25" width="5.00" height="1.50" rx="0.75" fill="#333" filter="url(#bl)"/>
<rect x="88.80" y="231.20" width="4.20" height="1.00" rx="0.50" fill="#666" filter="url(#bl)"/>
<rect x="95.40" y="233.20" width="5.40" height="1.60" rx="0.80" fill="#222" filter="url(#bl)"/>
<rect x="107.30" y="232.30" width="6.70" height="2.40" rx="1.20" fill="#000" filter="url(#bl)"/>
<rect x="116.00" y="231.00" width="4.00" height="1.00" rx="0.50" fill="#888" filter="url(#bl)"/>
<rect x="127.70" y="232.40" width="6.30" height="2.20" rx="1.10" fill="#111" filter="url(#bl)"/>
<rect x="135.80" y="230.50" width="4.50" height="1.40" rx="0.70" fill="#222" filter="url(#bl)"/>
<text x="102.70" y="241.98" font-size="5.5" font-weight="bold" fill="#111" stroke="#111" stroke-width="0.138" textLength="26.90" lengthAdjust="spacingAndGlyphs" >Western: HA</text>
<rect x="61.30" y="244.50" width="79.50" height="7.00" fill="#f6f6f6" stroke="none" stroke-width="0" />
<rect x="67.70" y="247.10" width="6.10" height="1.80" rx="0.90" fill="#111" filter="url(#bl)"/>
<rect x="100.80" y="247.00" width="4.20" height="3.60" rx="1.50" fill="#c4c4c4" filter="url(#bl2)"/>
<rect x="106.00" y="247.00" width="4.20" height="3.60" rx="1.50" fill="#c4c4c4" filter="url(#bl2)"/>
<rect x="111.00" y="247.00" width="4.20" height="3.60" rx="1.50" fill="#c4c4c4" filter="url(#bl2)"/>
<rect x="116.00" y="247.00" width="4.20" height="3.60" rx="1.50" fill="#c4c4c4" filter="url(#bl2)"/>
<rect x="121.00" y="247.00" width="4.20" height="3.60" rx="1.50" fill="#c4c4c4" filter="url(#bl2)"/>
<rect x="76.00" y="247.00" width="24.00" height="3.00" rx="1.50" fill="#ececec" filter="url(#bl2)"/>
<rect x="135.40" y="248.10" width="4.80" height="1.80" rx="0.90" fill="#111" filter="url(#bl)"/>
<text x="102.70" y="257.38" font-size="5.5" font-weight="bold" fill="#111" stroke="#111" stroke-width="0.138" textLength="29.80" lengthAdjust="spacingAndGlyphs" >Western: Flag</text>
<rect x="152.20" y="212.00" width="25.00" height="8.70" fill="#f3f3f3" stroke="none" stroke-width="0" />
<rect x="163.00" y="212.00" width="14.00" height="3.00" rx="1.50" fill="#e0e0e0" filter="url(#bl2)"/>
<rect x="157.60" y="216.25" width="4.90" height="1.50" rx="0.75" fill="#333" filter="url(#bl)"/>
<rect x="169.20" y="215.00" width="7.80" height="4.00" rx="1.50" fill="#080808" filter="url(#bl)"/>
<rect x="151.20" y="230.20" width="25.50" height="7.30" fill="#eeeeee" stroke="none" stroke-width="0" />
<rect x="151.50" y="231.80" width="6.00" height="2.00" rx="1.00" fill="#111" filter="url(#bl)"/>
<rect x="157.80" y="231.90" width="5.50" height="1.80" rx="0.90" fill="#222" filter="url(#bl)"/>
<rect x="164.20" y="231.70" width="5.80" height="1.80" rx="0.90" fill="#222" filter="url(#bl)"/>
<rect x="170.80" y="231.20" width="5.90" height="2.80" rx="1.40" fill="#000" filter="url(#bl)"/>
<rect x="152.00" y="235.40" width="24.50" height="1.20" rx="0.60" fill="#b0b0b0" filter="url(#bl)"/>
<text x="179.10" y="235.88" font-size="5.5" font-weight="bold" fill="#111" stroke="#111" stroke-width="0.138" textLength="13.40" lengthAdjust="spacingAndGlyphs" >IP: HA</text>
<rect x="151.20" y="242.70" width="25.50" height="9.90" fill="#ececec" stroke="none" stroke-width="0" />
<rect x="158.00" y="243.50" width="19.00" height="4.00" rx="1.50" fill="#d8d8d8" filter="url(#bl2)"/>
<rect x="163.00" y="247.25" width="14.00" height="4.50" rx="1.50" fill="#cdcdcd" filter="url(#bl2)"/>
<rect x="151.50" y="248.55" width="5.50" height="1.50" rx="0.75" fill="#555" filter="url(#bl)"/>
<text x="179.10" y="251.28" font-size="5.5" font-weight="bold" fill="#111" stroke="#111" stroke-width="0.138" textLength="13.40" lengthAdjust="spacingAndGlyphs" >IP: HA</text>
<text x="205.20" y="149.62" font-size="12" font-weight="bold" stroke="#000" stroke-width="0.300" >E</text>
<line x1="221.40" y1="157.80" x2="221.40" y2="222.70" stroke="#222" stroke-width="0.8" />
<line x1="221.40" y1="222.60" x2="329.60" y2="222.60" stroke="#222" stroke-width="0.8" />
<line x1="248.50" y1="222.60" x2="248.50" y2="224.20" stroke="#222" stroke-width="0.7" />
<line x1="275.50" y1="222.60" x2="275.50" y2="224.20" stroke="#222" stroke-width="0.7" />
<line x1="302.50" y1="222.60" x2="302.50" y2="224.20" stroke="#222" stroke-width="0.7" />
<line x1="329.50" y1="222.60" x2="329.50" y2="224.20" stroke="#222" stroke-width="0.7" />
<line x1="219.80" y1="174.50" x2="221.40" y2="174.50" stroke="#222" stroke-width="0.7" />
<line x1="219.80" y1="190.50" x2="221.40" y2="190.50" stroke="#222" stroke-width="0.7" />
<line x1="219.80" y1="206.60" x2="221.40" y2="206.60" stroke="#222" stroke-width="0.7" />
<line x1="219.80" y1="222.60" x2="221.40" y2="222.60" stroke="#222" stroke-width="0.7" />
<text x="218.80" y="160.32" font-size="5.9" font-weight="bold" text-anchor="end" fill="#222" stroke="#222" stroke-width="0.148" >100</text>
<text x="218.80" y="176.92" font-size="5.9" font-weight="bold" text-anchor="end" fill="#222" stroke="#222" stroke-width="0.148" >75</text>
<text x="218.80" y="192.92" font-size="5.9" font-weight="bold" text-anchor="end" fill="#222" stroke="#222" stroke-width="0.148" >50</text>
<text x="218.80" y="208.92" font-size="5.9" font-weight="bold" text-anchor="end" fill="#222" stroke="#222" stroke-width="0.148" >25</text>
<text x="218.80" y="224.92" font-size="5.9" font-weight="bold" text-anchor="end" fill="#222" stroke="#222" stroke-width="0.148" >0</text>
<text x="222.00" y="232.32" font-size="5.9" font-weight="bold" text-anchor="middle" fill="#222" stroke="#222" stroke-width="0.148" >0</text>
<text x="251.70" y="232.32" font-size="5.9" font-weight="bold" text-anchor="middle" fill="#222" stroke="#222" stroke-width="0.148" >50</text>
<text x="279.70" y="232.32" font-size="5.9" font-weight="bold" text-anchor="middle" fill="#222" stroke="#222" stroke-width="0.148" >100</text>
<text x="306.60" y="232.32" font-size="5.9" font-weight="bold" text-anchor="middle" fill="#222" stroke="#222" stroke-width="0.148" >150</text>
<text x="334.90" y="232.32" font-size="5.9" font-weight="bold" text-anchor="middle" fill="#222" stroke="#222" stroke-width="0.148" >200</text>
<text transform="translate(208.62,189.40) rotate(-90)" x="0" y="0" font-size="5.6" font-weight="normal" text-anchor="middle" textLength="35.00" lengthAdjust="spacingAndGlyphs" fill="#111" stroke="#111" stroke-width="0.112">% of survival</text>
<text x="237.30" y="239.30" font-size="6.4" font-weight="bold" fill="#111" stroke="#111" stroke-width="0.160" textLength="79.70" lengthAdjust="spacingAndGlyphs" >Time (days after transplant)</text>
<line x1="221.40" y1="158.00" x2="328.60" y2="158.00" stroke="#777" stroke-width="0.8" />
<path d="M239.7,158 L240.5,164.3 L241.7,174.5 L244.6,174.5 L244.6,187.3 L245.9,193 L245.9,222.6" fill="none" stroke="#888" stroke-width="0.8" />
<circle cx="221.40" cy="158.00" r="2.0" fill="#000" stroke="none" stroke-width="0.6"/>
<path d="M239.70,156.10 L241.60,158.00 L239.70,159.90 L237.80,158.00 Z" fill="#000" stroke="#000" stroke-width="0.5" />
<path d="M240.30,161.90 L242.20,163.80 L240.30,165.70 L238.40,163.80 Z" fill="#000" stroke="#000" stroke-width="0.5" />
<path d="M241.30,163.10 L243.20,165.00 L241.30,166.90 L239.40,165.00 Z" fill="#000" stroke="#000" stroke-width="0.5" />
<path d="M241.50,172.70 L243.40,174.60 L241.50,176.50 L239.60,174.60 Z" fill="#000" stroke="#000" stroke-width="0.5" />
<path d="M244.60,172.70 L246.50,174.60 L244.60,176.50 L242.70,174.60 Z" fill="#000" stroke="#000" stroke-width="0.5" />
<path d="M244.80,185.40 L246.70,187.30 L244.80,189.20 L242.90,187.30 Z" fill="#000" stroke="#000" stroke-width="0.5" />
<path d="M245.90,191.10 L247.80,193.00 L245.90,194.90 L244.00,193.00 Z" fill="#000" stroke="#000" stroke-width="0.5" />
<path d="M245.90,209.70 L247.80,211.60 L245.90,213.50 L244.00,211.60 Z" fill="#000" stroke="#000" stroke-width="0.5" />
<path d="M245.90,220.70 L247.80,222.60 L245.90,224.50 L244.00,222.60 Z" fill="#000" stroke="#000" stroke-width="0.5" />
<path d="M302.2,158 L302.2,173.5 L305.6,173.5 L305.6,189.9 L320.5,189.9 L320.5,222.6" fill="none" stroke="#777" stroke-width="0.8" />
<circle cx="302.20" cy="158.00" r="1.7" fill="#fff" stroke="#333" stroke-width="0.6"/>
<circle cx="302.40" cy="173.50" r="1.7" fill="#fff" stroke="#333" stroke-width="0.6"/>
<circle cx="305.80" cy="173.50" r="1.7" fill="#fff" stroke="#333" stroke-width="0.6"/>
<circle cx="305.60" cy="189.90" r="1.7" fill="#fff" stroke="#333" stroke-width="0.6"/>
<circle cx="320.50" cy="189.90" r="1.7" fill="#fff" stroke="#333" stroke-width="0.6"/>
<circle cx="320.70" cy="207.00" r="1.7" fill="#fff" stroke="#333" stroke-width="0.6"/>
<circle cx="320.70" cy="222.60" r="1.7" fill="#fff" stroke="#333" stroke-width="0.6"/>
<rect x="326.80" y="156.20" width="3.60" height="3.60" fill="#fff" stroke="#333" stroke-width="0.6" />
<text x="322.40" y="165.92" font-size="5.6" font-weight="bold" fill="#111" stroke="#111" stroke-width="0.140" textLength="16.40" lengthAdjust="spacingAndGlyphs" >Others</text>
<text x="309.90" y="187.32" font-size="5.6" font-weight="bold" fill="#111" stroke="#111" stroke-width="0.140" textLength="17.30" lengthAdjust="spacingAndGlyphs" >HOXA9</text>
<text x="250.00" y="200.01" font-size="5.3" font-weight="bold" fill="#333" stroke="#333" stroke-width="0.133" textLength="19.40" lengthAdjust="spacingAndGlyphs" >HOXA9+</text>
<text x="249.80" y="205.21" font-size="5.3" font-weight="bold" fill="#333" stroke="#333" stroke-width="0.133" textLength="42.50" lengthAdjust="spacingAndGlyphs" >Meis1(PIM&gt;MIM)+</text>
<text x="249.80" y="210.21" font-size="5.3" font-weight="bold" fill="#333" stroke="#333" stroke-width="0.133" textLength="39.20" lengthAdjust="spacingAndGlyphs" >PBX1(MIM&gt;PIM)</text>
<text x="351.50" y="149.52" font-size="12" font-weight="bold" stroke="#000" stroke-width="0.300" >F</text>
<line x1="367.30" y1="158.30" x2="367.30" y2="232.00" stroke="#222" stroke-width="0.8" />
<line x1="367.30" y1="232.40" x2="515.40" y2="232.40" stroke="#999" stroke-width="0.8" />
<line x1="397.00" y1="230.90" x2="397.00" y2="232.40" stroke="#999" stroke-width="0.7" />
<line x1="426.50" y1="230.90" x2="426.50" y2="232.40" stroke="#999" stroke-width="0.7" />
<line x1="456.20" y1="230.90" x2="456.20" y2="232.40" stroke="#999" stroke-width="0.7" />
<line x1="485.40" y1="230.90" x2="485.40" y2="232.40" stroke="#999" stroke-width="0.7" />
<line x1="515.40" y1="230.90" x2="515.40" y2="232.40" stroke="#999" stroke-width="0.7" />
<line x1="365.80" y1="173.20" x2="367.30" y2="173.20" stroke="#222" stroke-width="0.7" />
<line x1="365.80" y1="188.10" x2="367.30" y2="188.10" stroke="#222" stroke-width="0.7" />
<line x1="365.80" y1="203.10" x2="367.30" y2="203.10" stroke="#222" stroke-width="0.7" />
<line x1="365.80" y1="218.00" x2="367.30" y2="218.00" stroke="#222" stroke-width="0.7" />
<text x="365.30" y="160.52" font-size="5.6" font-weight="bold" text-anchor="end" fill="#222" stroke="#222" stroke-width="0.140" >100</text>
<text x="365.30" y="175.22" font-size="5.6" font-weight="bold" text-anchor="end" fill="#222" stroke="#222" stroke-width="0.140" >80</text>
<text x="365.30" y="190.32" font-size="5.6" font-weight="bold" text-anchor="end" fill="#222" stroke="#222" stroke-width="0.140" >60</text>
<text x="365.30" y="205.32" font-size="5.6" font-weight="bold" text-anchor="end" fill="#222" stroke="#222" stroke-width="0.140" >40</text>
<text x="365.30" y="220.12" font-size="5.6" font-weight="bold" text-anchor="end" fill="#222" stroke="#222" stroke-width="0.140" >20</text>
<text x="365.30" y="234.02" font-size="5.6" font-weight="bold" text-anchor="end" fill="#222" stroke="#222" stroke-width="0.140" >0</text>
<text x="367.30" y="242.32" font-size="5.6" font-weight="bold" text-anchor="middle" fill="#222" stroke="#222" stroke-width="0.140" >0</text>
<text x="396.80" y="242.32" font-size="5.6" font-weight="bold" text-anchor="middle" fill="#222" stroke="#222" stroke-width="0.140" >25</text>
<text x="425.70" y="242.32" font-size="5.6" font-weight="bold" text-anchor="middle" fill="#222" stroke="#222" stroke-width="0.140" >50</text>
<text x="455.80" y="242.32" font-size="5.6" font-weight="bold" text-anchor="middle" fill="#222" stroke="#222" stroke-width="0.140" >75</text>
<text x="485.40" y="242.32" font-size="5.6" font-weight="bold" text-anchor="middle" fill="#222" stroke="#222" stroke-width="0.140" >100</text>
<text x="515.20" y="242.32" font-size="5.6" font-weight="bold" text-anchor="middle" fill="#222" stroke="#222" stroke-width="0.140" >125</text>
<text transform="translate(355.82,196.40) rotate(-90)" x="0" y="0" font-size="5.6" font-weight="normal" text-anchor="middle" textLength="35.00" lengthAdjust="spacingAndGlyphs" fill="#111" stroke="#111" stroke-width="0.112">% of survival</text>
<text x="408.20" y="251.17" font-size="6.3" font-weight="bold" fill="#111" stroke="#111" stroke-width="0.158" textLength="72.30" lengthAdjust="spacingAndGlyphs" >Time (days after transplant)</text>
<line x1="367.30" y1="158.30" x2="496.30" y2="158.30" stroke="#222" stroke-width="0.8" />
<rect x="367.20" y="156.60" width="2.60" height="3.20" fill="#fff" stroke="#333" stroke-width="0.5" />
<rect x="369.60" y="156.60" width="3.00" height="3.20" fill="#000" stroke="none" stroke-width="0" />
<ellipse cx="374.6" cy="158.2" rx="2.0" ry="1.5" fill="#fff" stroke="#333" stroke-width="0.5"/>
<line x1="496.40" y1="158.30" x2="496.40" y2="214.50" stroke="#444" stroke-width="0.8" />
<path d="M496.60,156.60 L498.30,158.30 L496.60,160.00 L494.90,158.30 Z" fill="#000" stroke="#000" stroke-width="0.5" />
<path d="M496.60,175.70 L498.30,177.40 L496.60,179.10 L494.90,177.40 Z" fill="#000" stroke="#000" stroke-width="0.5" />
<path d="M496.60,195.10 L498.30,196.80 L496.60,198.50 L494.90,196.80 Z" fill="#000" stroke="#000" stroke-width="0.5" />
<path d="M496.60,212.80 L498.30,214.50 L496.60,216.20 L494.90,214.50 Z" fill="#000" stroke="#000" stroke-width="0.5" />
<text x="475.90" y="188.86" font-size="6.0" font-weight="bold" fill="#111" stroke="#111" stroke-width="0.150" textLength="19.00" lengthAdjust="spacingAndGlyphs" >HOXA9</text>
<line x1="406.30" y1="158.30" x2="406.30" y2="203.10" stroke="#333" stroke-width="0.7" stroke-dasharray="1,1.2"/>
<line x1="406.30" y1="203.10" x2="416.60" y2="203.10" stroke="#333" stroke-width="0.8" stroke-dasharray="1.4,1.2"/>
<line x1="416.60" y1="203.10" x2="416.60" y2="231.60" stroke="#333" stroke-width="0.7" stroke-dasharray="1,1.2"/>
<rect x="404.80" y="156.80" width="3.00" height="3.00" fill="#fff" stroke="#333" stroke-width="0.55" />
<rect x="404.80" y="171.90" width="3.00" height="3.00" fill="#fff" stroke="#333" stroke-width="0.55" />
<rect x="405.50" y="185.60" width="3.00" height="3.00" fill="#fff" stroke="#333" stroke-width="0.55" />
<rect x="405.50" y="201.60" width="3.00" height="3.00" fill="#fff" stroke="#333" stroke-width="0.55" />
<rect x="415.10" y="216.00" width="3.00" height="3.00" fill="#fff" stroke="#333" stroke-width="0.55" />
<rect x="415.10" y="230.10" width="3.00" height="3.00" fill="#fff" stroke="#333" stroke-width="0.55" />
<line x1="408.30" y1="158.30" x2="408.30" y2="173.40" stroke="#666" stroke-width="0.7" />
<line x1="411.20" y1="158.30" x2="411.20" y2="173.40" stroke="#888" stroke-width="0.6" />
<line x1="409.30" y1="173.40" x2="417.50" y2="173.40" stroke="#333" stroke-width="0.7" />
<line x1="417.50" y1="173.40" x2="417.50" y2="203.10" stroke="#000" stroke-width="0.9" />
<line x1="417.50" y1="203.10" x2="441.30" y2="203.10" stroke="#333" stroke-width="0.7" />
<line x1="422.20" y1="203.10" x2="422.20" y2="231.60" stroke="#000" stroke-width="0.9" />
<circle cx="409.30" cy="158.30" r="1.8" fill="#000" stroke="none" stroke-width="0.6"/>
<circle cx="409.30" cy="173.40" r="1.8" fill="#000" stroke="none" stroke-width="0.6"/>
<circle cx="417.50" cy="173.40" r="1.8" fill="#000" stroke="none" stroke-width="0.6"/>
<circle cx="417.50" cy="186.40" r="1.8" fill="#000" stroke="none" stroke-width="0.6"/>
<circle cx="417.80" cy="203.10" r="1.8" fill="#000" stroke="none" stroke-width="0.6"/>
<circle cx="422.20" cy="217.50" r="1.8" fill="#000" stroke="none" stroke-width="0.6"/>
<circle cx="422.20" cy="231.60" r="1.8" fill="#000" stroke="none" stroke-width="0.6"/>
<path d="M412.30,157.00 L413.60,158.30 L412.30,159.60 L411.00,158.30 Z" fill="#fff" stroke="#444" stroke-width="0.5" />
<path d="M412.30,172.10 L413.60,173.40 L412.30,174.70 L411.00,173.40 Z" fill="#fff" stroke="#444" stroke-width="0.5" />
<line x1="422.10" y1="158.30" x2="422.10" y2="173.40" stroke="#888" stroke-width="0.7" />
<line x1="424.70" y1="173.40" x2="424.70" y2="203.10" stroke="#888" stroke-width="0.7" />
<line x1="429.70" y1="203.10" x2="429.70" y2="231.60" stroke="#888" stroke-width="0.7" />
<circle cx="422.10" cy="158.30" r="1.3" fill="#fff" stroke="#444" stroke-width="0.5"/>
<circle cx="422.10" cy="173.40" r="1.3" fill="#fff" stroke="#444" stroke-width="0.5"/>
<circle cx="422.30" cy="186.90" r="1.3" fill="#fff" stroke="#444" stroke-width="0.5"/>
<path d="M423.20,174.56 L425.60,174.56 L424.40,172.40 Z" fill="#fff" stroke="#444" stroke-width="0.45" />
<path d="M423.40,188.06 L425.80,188.06 L424.60,185.90 Z" fill="#fff" stroke="#444" stroke-width="0.45" />
<rect x="423.10" y="201.90" width="2.40" height="2.40" fill="#fff" stroke="#555" stroke-width="0.5" />
<rect x="428.50" y="201.90" width="2.40" height="2.40" fill="#fff" stroke="#555" stroke-width="0.5" />
<rect x="428.50" y="216.30" width="2.40" height="2.40" fill="#fff" stroke="#555" stroke-width="0.5" />
<rect x="428.50" y="230.40" width="2.40" height="2.40" fill="#fff" stroke="#555" stroke-width="0.5" />
<line x1="441.30" y1="203.10" x2="441.30" y2="216.90" stroke="#444" stroke-width="0.7" />
<line x1="441.30" y1="216.90" x2="461.40" y2="216.90" stroke="#444" stroke-width="0.7" />
<line x1="461.40" y1="216.90" x2="461.40" y2="231.60" stroke="#444" stroke-width="0.7" />
<path d="M439.40,204.52 L443.20,204.52 L441.30,201.10 Z" fill="#fff" stroke="#333" stroke-width="0.55" />
<path d="M439.40,218.42 L443.20,218.42 L441.30,215.00 Z" fill="#fff" stroke="#333" stroke-width="0.55" />
<path d="M459.50,218.42 L463.30,218.42 L461.40,215.00 Z" fill="#fff" stroke="#333" stroke-width="0.55" />
<path d="M459.50,233.12 L463.30,233.12 L461.40,229.70 Z" fill="#fff" stroke="#333" stroke-width="0.55" />
<text x="428.10" y="166.48" font-size="5.5" font-weight="bold" fill="#222" stroke="#222" stroke-width="0.138" textLength="20.90" lengthAdjust="spacingAndGlyphs" >NH2&gt;HA</text>
<path d="M427.5,165.3 L423.0,168.0 L427.5,170.8" fill="none" stroke="#222" stroke-width="0.6" />
<line x1="423.50" y1="168.00" x2="437.40" y2="168.00" stroke="#555" stroke-width="0.5" />
<text x="433.10" y="194.88" font-size="5.5" font-weight="bold" fill="#222" stroke="#222" stroke-width="0.138" textLength="13.90" lengthAdjust="spacingAndGlyphs" >CTRL</text>
<line x1="419.60" y1="196.50" x2="450.00" y2="196.50" stroke="#222" stroke-width="0.6" />
<path d="M417.80,196.50 L420.80,194.90 L420.80,198.10 Z" fill="#222" stroke="none" stroke-width="0" />
<text x="384.70" y="216.28" font-size="5.5" font-weight="bold" fill="#222" stroke="#222" stroke-width="0.138" textLength="25.00" lengthAdjust="spacingAndGlyphs" >GKFQ&gt;HA</text>
<line x1="392.40" y1="217.80" x2="410.00" y2="217.80" stroke="#222" stroke-width="0.9" stroke-dasharray="1.3,1"/>
<path d="M408.5,216.0 L411.7,217.8 L408.5,219.6" fill="none" stroke="#222" stroke-width="0.6" />
<text x="467.20" y="219.88" font-size="5.5" font-weight="bold" fill="#222" stroke="#222" stroke-width="0.138" textLength="12.70" lengthAdjust="spacingAndGlyphs" >N51S</text>
<path d="M465.5,219.3 L462.9,221.0 L465.5,222.6" fill="none" stroke="#222" stroke-width="0.6" />
<line x1="463.20" y1="221.00" x2="478.00" y2="221.00" stroke="#555" stroke-width="0.5" />
</svg>
</body></html>
